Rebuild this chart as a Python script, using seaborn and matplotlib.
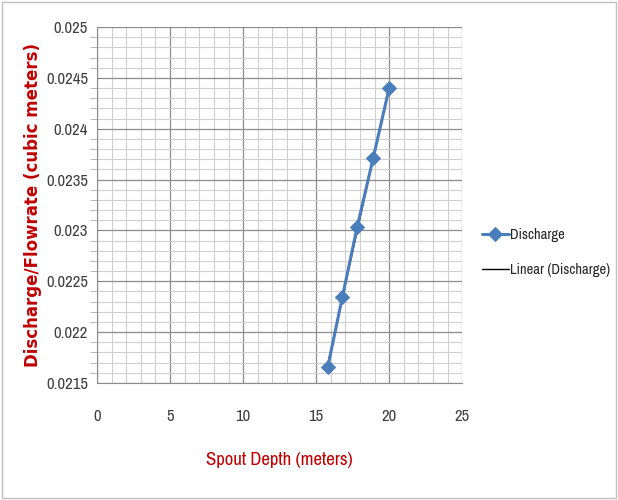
import pandas as pd
import seaborn as sns
import matplotlib.pyplot as plt
from matplotlib import font_manager
from matplotlib.ticker import MultipleLocator, FuncFormatter
from matplotlib.patches import Rectangle

# data
spout_depth = [15.8, 16.8, 17.8, 18.9, 20.0]
discharge = [0.02166, 0.02235, 0.02303, 0.02371, 0.0244]

df = pd.DataFrame({"depth": spout_depth, "discharge": discharge})

# pick a narrow font if one exists, Calibri look-alike
names = sorted({f.name for f in font_manager.fontManager.ttflist})
narrow = [n for n in names if "Narrow" in n or "Condensed" in n]
base = narrow[0] if narrow else "Liberation Sans"

sns.set_style("white")
plt.rcParams['font.family'] = [base, 'DejaVu Sans']

fig = plt.figure(figsize=(6.18, 5), dpi=100)
ax = fig.add_axes([0.157, 0.234, 0.591, 0.712])

sns.lineplot(data=df, x="depth", y="discharge", ax=ax, color="#4A7EBB",
             marker="D", markersize=7, markeredgecolor="#4A7EBB", linewidth=2.2,
             label="Discharge", zorder=3)
sns.regplot(data=df, x="depth", y="discharge", ax=ax, scatter=False, ci=None,
            color="black", label="Linear (Discharge)", line_kws={"linewidth": 1})

ax.set_xlim(0, 25)
ax.set_ylim(0.0215, 0.025)
ax.xaxis.set_major_locator(MultipleLocator(5))
ax.xaxis.set_minor_locator(MultipleLocator(1))
ax.yaxis.set_major_locator(MultipleLocator(0.0005))
ax.yaxis.set_minor_locator(MultipleLocator(0.0001))
ax.yaxis.set_major_formatter(FuncFormatter(lambda v, p: f"{v:.4f}".rstrip("0")))

ax.grid(which="major", color="#8c8c8c", linewidth=0.9)
ax.grid(which="minor", color="#cfcfcf", linewidth=0.8)
ax.set_axisbelow(True)

for side in ["top", "right"]:
    ax.spines[side].set_visible(False)
for side in ["left", "bottom"]:
    ax.spines[side].set_color("#8c8c8c")

ax.tick_params(axis="both", which="major", direction="out", length=5, color="#8c8c8c",
               labelsize=12, labelcolor="#404040")
ax.tick_params(axis="y", which="minor", direction="out", length=5, color="#b0b0b0", left=True)
ax.tick_params(axis="x", which="minor", length=0)
ax.tick_params(axis="x", pad=14)
ax.tick_params(axis="y", pad=1.5)

ax.set_xlabel("Spout Depth (meters)", color="#C00000", fontsize=13.5, labelpad=20)
ax.set_ylabel("Discharge/Flowrate (cubic meters)", color="#C00000", fontsize=12,
              fontweight="bold", family=["DejaVu Sans"], labelpad=3)

ax.legend(loc="center left", bbox_to_anchor=(1.055, 0.367), frameon=False,
          borderpad=0, borderaxespad=0, fontsize=10.5, handlelength=1.8,
          handletextpad=0.1, labelspacing=1.45)

fig.patches.append(Rectangle((0.003, 0.004), 0.994, 0.992, transform=fig.transFigure,
                             fill=False, edgecolor="#c0c0c0", linewidth=1))

fig.savefig("out.png", dpi=100)
